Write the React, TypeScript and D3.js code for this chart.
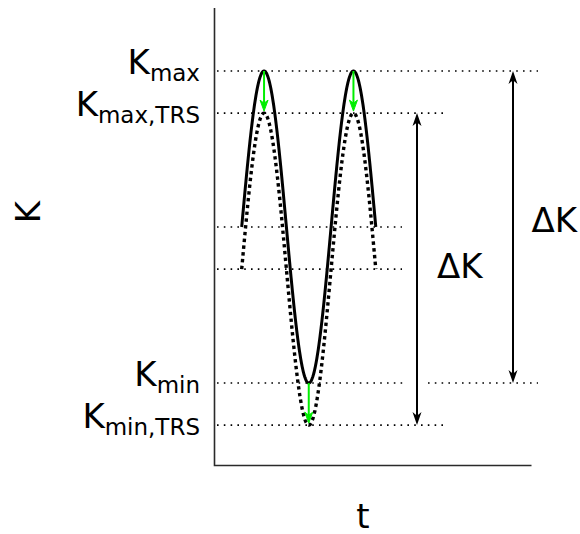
import React from "react";
import * as d3 from "d3";

const W = 580;
const H = 534;

// Stiffness levels of the oscillation (normalised units)
const levelSubs = ["max", "max,TRS", "min", "min,TRS"];
const levelValues = [1, 0.73, -1, -1.27];
// Downward offset of the TRS-corrected signal
const trsShift = -0.27;
// Number of cycles drawn and the times of the extrema
const waveCycles = 1.5;
const extremaT = [0.25, 0.75, 1.25];

const FONT = "DejaVu Sans, sans-serif";

function arrowHead(xTip: number, yTip: number, dir: number, len: number, halfW: number) {
  // dir = +1 points down, -1 points up
  const back = yTip - dir * len;
  const notch = yTip - dir * len * 0.72;
  return `M${xTip},${yTip} L${xTip - halfW},${back} L${xTip},${notch} L${xTip + halfW},${back} Z`;
}

export default function App() {
  const x = d3.scaleLinear().domain([0, waveCycles]).range([241.7, 375.8]);
  const y = d3.scaleLinear().domain([1, -1]).range([71, 383]);

  const samples = d3.range(0, waveCycles + 1e-9, 0.004);
  const line = d3
    .line<number>()
    .x((t) => x(t))
    .y((t) => y(Math.sin(2 * Math.PI * t)));
  const lineTrs = d3
    .line<number>()
    .x((t) => x(t))
    .y((t) => y(Math.sin(2 * Math.PI * t) + trsShift));

  const [kMax, kMaxTrs, kMin, kMinTrs] = levelValues;

  // dotted guide lines: [value, segments]
  const guides: [number, [number, number][]][] = [
    [kMax, [[217, 538]]],
    [kMaxTrs, [[217, 446]]],
    [0, [[217, 402]]],
    [trsShift, [[217, 402]]],
    [kMin, [[217, 406], [428, 538]]],
    [kMinTrs, [[217, 446]]],
  ];

  const green = "#00ee00";

  const deltaArrows = [
    { x: 513, top: kMax, bottom: kMin },
    { x: 417, top: kMaxTrs, bottom: kMinTrs },
  ];

  return (
    <svg
      width={W}
      height={H}
      style={{ position: "absolute", left: 0, top: 0, background: "#fff" }}
      fontFamily={FONT}
    >
      <rect width={W} height={H} fill="#fff" />

      {/* axes */}
      <path d="M214.5,8 V465.5 H531.5" fill="none" stroke="#2a2a2a" strokeWidth={1.6} />

      {/* guide lines */}
      {guides.map(([v, segs], i) =>
        segs.map(([a, b], j) => (
          <line
            key={`g${i}-${j}`}
            x1={a}
            x2={b}
            y1={y(v)}
            y2={y(v)}
            stroke="#000"
            strokeWidth={1.6}
            strokeDasharray="1.6,5.2"
          />
        ))
      )}

      {/* signals */}
      <path d={lineTrs(samples) ?? ""} fill="none" stroke="#000" strokeWidth={3.4} strokeDasharray="3.4,3.4" />
      <path d={line(samples) ?? ""} fill="none" stroke="#000" strokeWidth={3} />

      {/* shift arrows at extrema */}
      {extremaT.map((t, i) => {
        const v = Math.sin(2 * Math.PI * t);
        const y0 = y(v);
        const y1 = y(v + trsShift);
        const xx = x(t);
        return (
          <g key={`ga${i}`}>
            <line x1={xx} x2={xx} y1={y0} y2={y1 - 6} stroke={green} strokeWidth={2} />
            <path d={arrowHead(xx, y1 - 2, 1, 11, 4)} fill={green} stroke={green} strokeWidth={1} />
          </g>
        );
      })}

      {/* amplitude arrows */}
      {deltaArrows.map((a, i) => {
        const yt = y(a.top);
        const yb = y(a.bottom);
        return (
          <g key={`da${i}`}>
            <line x1={a.x} x2={a.x} y1={yt + 8} y2={yb - 8} stroke="#000" strokeWidth={2} />
            <path d={arrowHead(a.x, yt, -1, 13, 4.5)} fill="#000" />
            <path d={arrowHead(a.x, yb, 1, 13, 4.5)} fill="#000" />
          </g>
        );
      })}

      {/* level labels */}
      {levelSubs.map((s, i) => (
        <text key={`l${i}`} x={200} y={y(levelValues[i]) + 3} textAnchor="end" fontSize={34} fill="#000">
          K
          <tspan fontSize={23} dy={7}>
            {s}
          </tspan>
        </text>
      ))}

      <text x={531.5} y={232} fontSize={34} fill="#000">
        ΔK
      </text>
      <text x={437} y={278} fontSize={34} fill="#000">
        ΔK
      </text>

      {/* axis titles */}
      <text transform="translate(40,212) rotate(-90)" textAnchor="middle" fontSize={34} fill="#000">
        K
      </text>
      <text x={363} y={528} textAnchor="middle" fontSize={34} fill="#000">
        t
      </text>
    </svg>
  );
}
